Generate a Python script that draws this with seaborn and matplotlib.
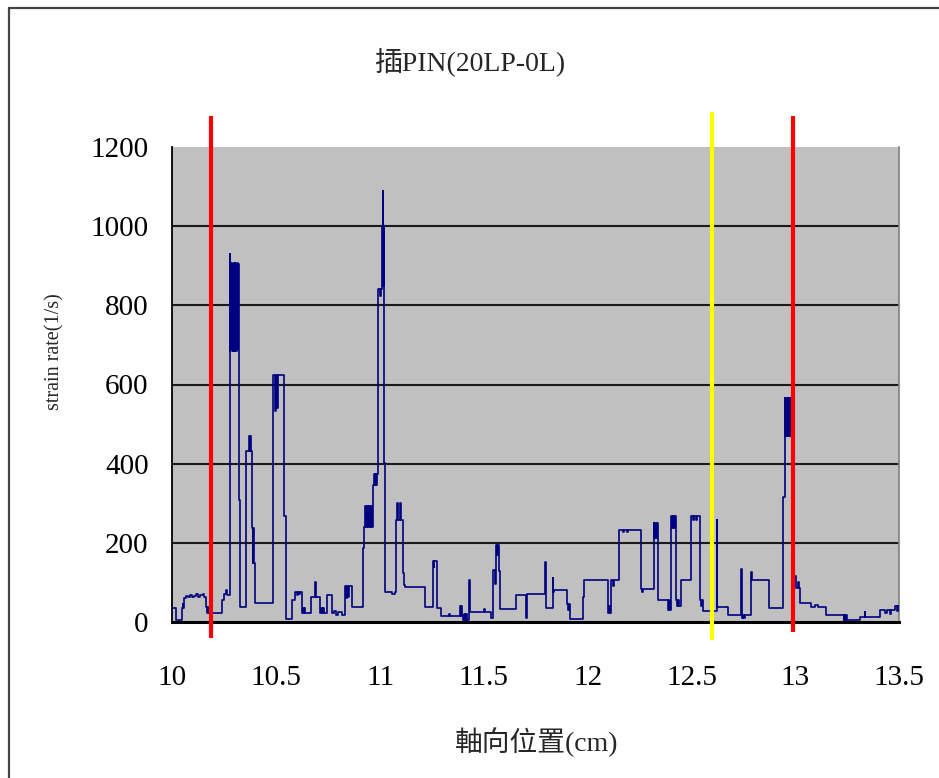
import numpy as np
import pandas as pd
import matplotlib
matplotlib.use("Agg")
import matplotlib.pyplot as plt
import seaborn as sns

# ---- data ----
pos = [10.000, 10.018, 10.045, 10.050, 10.053, 10.056, 10.066, 10.076, 10.086, 10.095,
       10.105, 10.114, 10.124, 10.133, 10.148, 10.152, 10.162, 10.167, 10.172, 10.177,
       10.241, 10.249, 10.258, 10.263, 10.278, 10.280, 10.282, 10.285, 10.287, 10.290,
       10.292, 10.295, 10.297, 10.300, 10.302, 10.304, 10.306, 10.309, 10.311, 10.314,
       10.316, 10.319, 10.321, 10.323, 10.328, 10.353, 10.367, 10.372, 10.376, 10.381,
       10.385, 10.388, 10.390, 10.393, 10.398, 10.483, 10.494, 10.499, 10.504, 10.509,
       10.538, 10.547, 10.575, 10.593, 10.598, 10.603, 10.608, 10.613, 10.623, 10.628,
       10.632, 10.636, 10.640, 10.666, 10.688, 10.690, 10.711, 10.716, 10.720, 10.725,
       10.730, 10.744, 10.767, 10.780, 10.790, 10.800, 10.815, 10.833, 10.838, 10.843,
       10.848, 10.853, 10.863, 10.916, 10.920, 10.923, 10.928, 10.932, 10.937, 10.942,
       10.947, 10.952, 10.957, 10.961, 10.967, 10.971, 10.975, 10.979, 10.982, 10.986,
       10.991, 10.999, 11.004, 11.010, 11.012, 11.014, 11.016, 11.018, 11.019, 11.021,
       11.024, 11.060, 11.070, 11.077, 11.081, 11.086, 11.096, 11.101, 11.112, 11.117,
       11.120, 11.216, 11.253, 11.258, 11.262, 11.272, 11.296, 11.330, 11.335, 11.384,
       11.388, 11.392, 11.396, 11.399, 11.404, 11.410, 11.415, 11.420, 11.428, 11.431,
       11.433, 11.500, 11.505, 11.532, 11.545, 11.553, 11.558, 11.563, 11.568, 11.573,
       11.577, 11.580, 11.657, 11.705, 11.709, 11.794, 11.798, 11.831, 11.834, 11.837,
       11.901, 11.905, 11.910, 11.917, 11.975, 11.983, 12.098, 12.102, 12.106, 12.110,
       12.121, 12.126, 12.151, 12.170, 12.175, 12.190, 12.195, 12.256, 12.262, 12.268,
       12.318, 12.321, 12.325, 12.329, 12.333, 12.339, 12.387, 12.391, 12.395, 12.403,
       12.407, 12.411, 12.415, 12.419, 12.427, 12.431, 12.435, 12.440, 12.447, 12.495,
       12.505, 12.510, 12.520, 12.525, 12.540, 12.545, 12.550, 12.555, 12.620, 12.624,
       12.676, 12.740, 12.742, 12.746, 12.750, 12.755, 12.788, 12.792, 12.871, 12.940,
       12.948, 12.951, 12.955, 12.959, 12.963, 12.967, 12.971, 12.975, 12.979, 12.983,
       12.986, 12.992, 13.005, 13.010, 13.015, 13.021, 13.077, 13.095, 13.110, 13.146,
       13.232, 13.236, 13.240, 13.245, 13.250, 13.313, 13.333, 13.337, 13.406, 13.430,
       13.440, 13.454, 13.460, 13.478, 13.490, 13.494, 13.500]
rate = [35, 5, 35, 45, 35, 60, 66, 62, 68, 62,
        66, 70, 64, 68, 72, 64, 38, 24, 38, 24,
        56, 70, 81, 68, 929, 685, 908, 690, 905, 685,
        908, 690, 905, 685, 908, 690, 905, 685, 908, 690,
        905, 685, 690, 309, 39, 431, 469, 431, 469, 431,
        238, 150, 238, 150, 47, 625, 532, 625, 540, 625,
        267, 8, 56, 77, 68, 77, 70, 77, 22, 35,
        22, 35, 22, 64, 102, 64, 22, 35, 22, 35,
        22, 68, 22, 28, 18, 26, 18, 91, 60, 91,
        62, 91, 39, 144, 187, 241, 292, 241, 292, 241,
        292, 241, 292, 241, 347, 375, 347, 375, 347, 375,
        840, 823, 840, 1000, 850, 1089, 850, 1000, 850, 402,
        77, 72, 77, 258, 300, 258, 300, 258, 123, 94,
        89, 39, 153, 140, 153, 35, 15, 20, 15, 40,
        15, 40, 15, 5, 20, 5, 20, 5, 105, 60,
        26, 32, 26, 10, 131, 95, 195, 170, 195, 130,
        89, 32, 68, 10, 71, 151, 35, 110, 75, 81,
        45, 30, 45, 7, 64, 105, 22, 40, 22, 106,
        90, 106, 233, 228, 233, 228, 233, 83, 75, 83,
        250, 213, 250, 213, 250, 56, 30, 56, 30, 267,
        238, 267, 238, 267, 56, 40, 56, 40, 106, 267,
        258, 267, 258, 267, 56, 40, 56, 28, 258, 39,
        18, 133, 9, 18, 9, 18, 127, 105, 35, 317,
        566, 469, 566, 469, 566, 469, 566, 469, 566, 469,
        566, 115, 85, 102, 85, 49, 39, 43, 39, 18,
        5, 18, 5, 18, 5, 13, 26, 13, 30, 22,
        30, 20, 30, 40, 28, 40, 40]

# marker lines drawn on the chart (axial positions)
cut_pos = [10.186, 12.600, 12.990]
cut_colors = ["#FF0000", "#FFFF00", "#FF0000"]
cut_low = [-41, -46, -25]
cut_high = [1278, 1288, 1278]

x_ticks = [10, 10.5, 11, 11.5, 12, 12.5, 13, 13.5]
x_ticklabels = ["10", "10.5", "11", "11.5", "12", "12.5", "13", "13.5"]
y_ticks = [0, 200, 400, 600, 800, 1000, 1200]

title = "插PIN(20LP-0L)"
xlabel = "軸向位置(cm)"
ylabel = "strain rate(1/s)"

df = pd.DataFrame({"pos": pos, "rate": rate})

# ---- style ----
sns.set_theme(style="white")
plt.rcParams["font.family"] = ["Liberation Serif", "Noto Sans CJK TC", "DejaVu Sans"]

W, H = 939, 778
fig = plt.figure(figsize=(W / 100, H / 100), dpi=100)
fig.patch.set_facecolor("white")
ax = fig.add_axes([172.3 / W, 1 - 622 / H, (899.3 - 172.3) / W, (622 - 147) / H])
ax.set_facecolor("#C0C0C0")

sns.lineplot(data=df, x="pos", y="rate", ax=ax, estimator=None, sort=False,
             drawstyle="steps-post", color="#000080", lw=1.2, zorder=3)

ax.set_xlim(10, 13.5)
ax.set_ylim(0, 1200)
ax.set_xticks(x_ticks)
ax.set_xticklabels(x_ticklabels)
ax.set_yticks(y_ticks)
ax.tick_params(axis="both", direction="in", length=6, width=1, colors="black",
               labelsize=21)
ax.tick_params(axis="y", pad=17)
ax.tick_params(axis="x", pad=31)

ax.yaxis.grid(True, color="#1a1a1a", lw=1.5)
ax.xaxis.grid(False)
ax.set_axisbelow(True)
ax.get_ygridlines()[-1].set_visible(False)
ax.get_ygridlines()[0].set_visible(False)

ax.spines["top"].set_visible(False)
ax.spines["right"].set_color("#808080")
ax.spines["right"].set_linewidth(1.2)
ax.spines["left"].set_color("black")
ax.spines["left"].set_linewidth(1.3)
ax.spines["bottom"].set_color("black")
ax.spines["bottom"].set_linewidth(2.2)

ax.set_xlabel("")
ax.set_ylabel("")

for xp, c, lo, hi in zip(cut_pos, cut_colors, cut_low, cut_high):
    ax.plot([xp, xp], [lo, hi], color=c, lw=3.0, clip_on=False, zorder=5,
            solid_capstyle="butt")

fig.text(470 / W, 1 - 62 / H, title, ha="center", va="center", fontsize=20)
fig.text(537 / W, 1 - 742 / H, xlabel, ha="center", va="center", fontsize=20)
fig.text(55 / W, 1 - 352 / H, ylabel, ha="center", va="center", fontsize=14.5,
         rotation=90)

# outer chart border (as in the source)
fig.add_artist(plt.Line2D([9 / W, 1.0], [1 - 8 / H, 1 - 8 / H], color="#444444",
                          lw=1.6, transform=fig.transFigure))
fig.add_artist(plt.Line2D([9 / W, 9 / W], [0.0, 1 - 8 / H], color="#444444",
                          lw=1.6, transform=fig.transFigure))

fig.savefig("out.png", dpi=100)
